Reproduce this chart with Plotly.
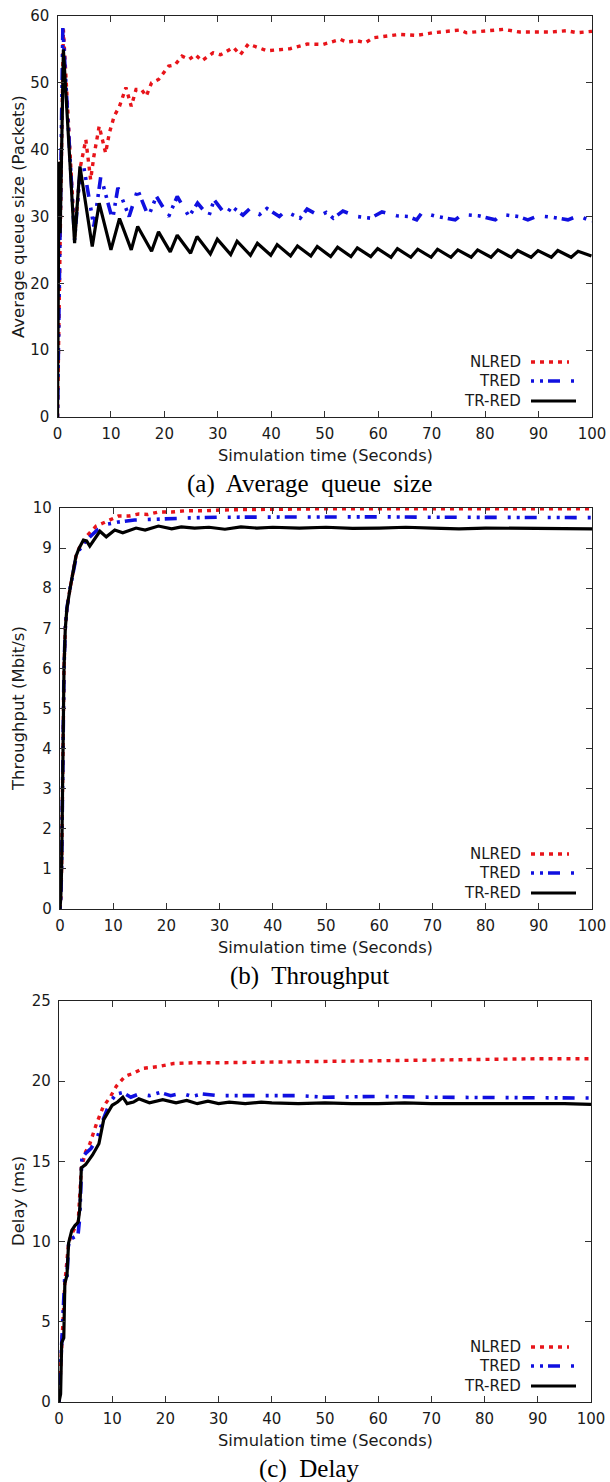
import plotly.graph_objects as go

W, H = 610, 1482

# ---------------- DATA ----------------
# (a) Average queue size (Packets)
aq_nlred_t = [0, 1.1, 3.2, 4.3, 5.3, 5.7, 6.2, 6.8, 7.8, 8.4, 9.0, 9.7, 10.6, 11.6, 12.8, 13.8, 14.7, 15.7, 16.6,
              17.6, 18.9, 20.8, 22.0, 23.3, 24.6, 25.8, 27.0, 29.1, 30.5, 32.9, 34.2, 35.7, 39.2, 43.5, 46.7,
              49.7, 52.9, 54.1, 56.0, 57.6, 59.1, 64.1, 67.2, 70.3, 75.3, 76.5, 80.3, 83.4, 86.5, 92.2, 95.2,
              97.2, 100]
aq_nlred = [0, 58, 27, 37.5, 41.5, 38.5, 35.5, 39, 43.5, 41.5, 39.5, 42.5, 45, 46.5, 49.3, 46.5, 49, 49, 48,
            50, 50.5, 52.5, 52.7, 54, 53.5, 54.2, 53.3, 54.5, 54.2, 55.3, 54.2, 55.8, 54.8, 55.1, 55.8,
            55.75, 56.5, 56.1, 56.3, 56.0, 56.75, 57.25, 57.1, 57.5, 57.9, 57.5, 57.75, 58.0, 57.6, 57.6, 57.8,
            57.5, 57.7]

aq_tred_t = [0, 1.0, 3.2, 4.3, 4.9, 6.8, 8.1, 10.3, 11.3, 13.4, 15.0, 17.0, 18.5, 20.8, 22.4, 24.6, 26.2, 28.3,
             29.3, 31.5, 32.6, 34.7, 36.0, 37.8, 39.2, 41.5, 42.6, 45.4, 46.7, 49.0, 50.3, 51.6, 53.4, 56.0,
             58.6, 60.7, 63.5, 65.6, 67.2, 68.2, 71.0, 74.4, 75.7, 78.8, 81.9, 83.1, 86.2, 88.0, 89.9, 92.5,
             95.5, 97.4, 100]
aq_tred = [0, 58.2, 26.5, 37.5, 37.5, 28.5, 36, 29.5, 34.3, 30, 34, 30, 33, 30, 33, 30, 32, 30,
           32.5, 30.2, 31.5, 30.2, 31.2, 30.3, 31.2, 30, 30.8, 29.75, 31.1, 30.1, 30.6, 29.75, 30.8, 30.0,
           29.75, 30.7, 30.1, 30, 29.5, 30.6, 30.0, 29.5, 30.3, 30.1, 29.5, 30.3, 30.0, 29.5, 30.1, 29.9,
           29.5, 30.1, 29.3]

aq_trred_t = [0, 0.3, 0.5, 1.1, 3.2, 4.2, 6.5, 7.8, 10.0, 11.6, 13.8, 15.0, 17.6, 18.9, 21.1, 22.4, 24.9, 26.1,
              28.6, 29.9, 32.4, 33.6, 36.1, 37.4, 39.9, 41.1, 43.6, 44.9, 47.4, 48.6, 51.1, 52.4, 54.9, 56.1,
              58.6, 59.9, 62.4, 63.6, 66.1, 67.4, 69.9, 71.1, 73.6, 74.9, 77.4, 78.6, 81.1, 82.4, 84.9, 86.1,
              88.6, 89.9, 92.4, 93.6, 96.1, 97.4, 99.9]
aq_trred = [0, 38.2, 27.5, 55, 26, 37.5, 25.5, 32, 25, 29.7, 25, 28.5, 24.8, 27.7, 24.7, 27.2, 24.5, 27,
            24.4, 26.6, 24.3, 26.3, 24.2, 26.0, 24.2, 25.8, 24.1, 25.6, 24.1, 25.5, 24.0, 25.4, 24.0, 25.3,
            24.0, 25.2, 23.9, 25.2, 23.9, 25.1, 23.9, 25.1, 23.9, 25.0, 23.9, 25.0, 23.9, 25.0, 23.9, 24.9,
            23.9, 24.9, 23.9, 24.9, 23.9, 24.8, 24.1]

# (b) Throughput (Mbit/s)
th_nlred_t = [0, 0.15, 0.3, 0.45, 0.6, 0.75, 1.0, 1.3, 1.9, 2.5, 3.0, 3.6, 4.4, 5.0, 6.0, 6.8, 8.0, 9.3, 11.0,
              13.0, 14.8, 16.5, 18.5, 21.0, 23.5, 27.0, 30.0, 35.0, 40.0, 45.0, 50.0, 60.0, 70.0, 80.0, 90.0, 100]
th_nlred = [0, 0.3, 1.0, 3.0, 5.0, 6.0, 7.0, 7.5, 8.0, 8.5, 8.8, 9.0, 9.15, 9.3, 9.45, 9.55, 9.62, 9.7, 9.8,
            9.8, 9.85, 9.84, 9.9, 9.9, 9.93, 9.93, 9.95, 9.96, 9.97, 9.97, 9.98, 9.98, 9.98, 9.98, 9.98, 9.98]

th_tred_t = [0, 0.15, 0.3, 0.45, 0.6, 0.75, 1.0, 1.3, 1.9, 2.5, 3.0, 3.6, 4.4, 5.0, 7.0, 9.0, 11.0, 14.0,
             18.0, 22.0, 26.0, 30.0, 40.0, 50.0, 60.0, 70.0, 80.0, 90.0, 100]
th_tred = [0, 0.3, 1.0, 3.0, 5.0, 6.0, 7.0, 7.5, 8.0, 8.45, 8.75, 8.95, 9.1, 9.2, 9.45, 9.6, 9.65, 9.7,
           9.72, 9.75, 9.76, 9.77, 9.78, 9.78, 9.78, 9.77, 9.77, 9.77, 9.76]

th_trred_t = [0, 0.15, 0.3, 0.45, 0.6, 0.75, 1.0, 1.3, 1.9, 2.5, 3.0, 3.6, 4.4, 5.0, 5.6, 7.5, 8.7, 10.3, 11.8,
              14.3, 16.0, 18.5, 21.0, 22.8, 25.3, 28, 31, 34, 37, 40, 45, 50, 55, 60, 65, 70, 75, 80, 85,
              90, 95, 100]
th_trred = [0, 0.3, 1.0, 3.0, 5.0, 6.0, 7.0, 7.5, 8.0, 8.5, 8.8, 9.0, 9.2, 9.18, 9.05, 9.42, 9.28, 9.45, 9.38,
            9.5, 9.45, 9.55, 9.48, 9.53, 9.5, 9.52, 9.47, 9.53, 9.5, 9.52, 9.5, 9.52, 9.49, 9.5, 9.52, 9.5,
            9.48, 9.5, 9.49, 9.5, 9.48, 9.48]

# (c) Delay (ms)
dl_nlred_t = [0, 0.5, 1.1, 1.8, 2.4, 3.6, 4.2, 5.0, 5.8, 7.1, 8.3, 9.6, 10.8, 12.4, 14.0, 15.8, 18.4, 21.5,
              25.2, 30, 40, 50, 60, 70, 80, 90, 100]
dl_nlred = [0, 3.7, 7.4, 9.9, 10.5, 11.2, 14.6, 15.6, 16.1, 17.4, 18.4, 19.0, 19.7, 20.3, 20.5, 20.8, 20.9,
            21.1, 21.15, 21.15, 21.2, 21.25, 21.3, 21.35, 21.4, 21.4, 21.4]

dl_tred_t = [0, 0.5, 1.1, 1.5, 1.8, 2.4, 3.0, 3.6, 3.9, 4.3, 5.0, 6.0, 7.0, 8.3, 9.6, 10.8, 12.0, 13.5, 15,
             17, 19, 21, 23, 25, 27, 30, 35, 40, 45, 50, 60, 70, 80, 90, 100]
dl_tred = [0, 3.7, 7.9, 7.8, 9.8, 10.2, 10.3, 10.5, 11.5, 15.2, 15.5, 15.8, 16.3, 17.6, 18.7, 19.2, 19.3,
           19.0, 19.2, 19.1, 19.3, 19.1, 19.25, 19.05, 19.2, 19.1, 19.1, 19.05, 19.1, 19.0, 19.05, 19.0,
           19.0, 19.0, 18.95]

dl_trred_t = [0, 0.3, 0.5, 0.9, 1.1, 1.5, 1.8, 2.4, 3.0, 3.6, 3.9, 4.2, 5.0, 6.3, 7.5, 8.4, 10.0, 11.0, 12.0,
              12.8, 14.0, 15.0, 17.0, 19.5, 22.0, 24.0, 26, 28, 30, 32, 35, 38, 40, 45, 50, 55, 60, 65, 70,
              75, 80, 85, 90, 95, 100]
dl_trred = [0, 0.5, 3.7, 4.0, 7.4, 7.9, 9.9, 10.7, 11.0, 11.2, 12.0, 14.6, 14.8, 15.4, 16.1, 17.6, 18.5,
            18.7, 19.0, 18.6, 18.7, 18.9, 18.65, 18.85, 18.65, 18.8, 18.6, 18.75, 18.6, 18.7, 18.6, 18.7,
            18.65, 18.6, 18.65, 18.6, 18.6, 18.65, 18.6, 18.6, 18.62, 18.6, 18.58, 18.6, 18.55]

series_names = ["NLRED", "TRED", "TR-RED"]
x_ticks = [0, 10, 20, 30, 40, 50, 60, 70, 80, 90, 100]
panels = [
    dict(ytitle="Average queue size (Packets)", caption="(a)\u00a0 Average\u00a0 queue\u00a0 size",
         yrange=[0, 60], ydtick=10,
         data=[(aq_nlred_t, aq_nlred), (aq_tred_t, aq_tred), (aq_trred_t, aq_trred)]),
    dict(ytitle="Throughput (Mbit/s)", caption="(b)\u00a0 Throughput",
         yrange=[0, 10], ydtick=1,
         data=[(th_nlred_t, th_nlred), (th_tred_t, th_tred), (th_trred_t, th_trred)]),
    dict(ytitle="Delay (ms)", caption="(c)\u00a0 Delay",
         yrange=[0, 25], ydtick=5,
         data=[(dl_nlred_t, dl_nlred), (dl_tred_t, dl_tred), (dl_trred_t, dl_trred)]),
]

# ---------------- STYLE / LAYOUT ----------------
colors = ["#e8141a", "#1010e0", "#000000"]
dashes = ["4px,5px", "3px,6px,3px,5px,12px,11px", "solid"]
widths = [3.4, 3.6, 3.2]

# plot boxes in pixels: (left, right, top, bottom)
boxes = [(57.5, 592, 16, 417), (60, 592, 508, 909), (59, 591, 1001, 1402)]


def px(p):
    return p / W


def py(p):
    return 1 - p / H


fig = go.Figure()
tickfont = dict(family="DejaVu Sans", size=15, color="#1a1a1a")
annotations = []
shapes = []

for i, (pan, box) in enumerate(zip(panels, boxes)):
    l, r, t, b = box
    xa = "xaxis" if i == 0 else f"xaxis{i+1}"
    ya = "yaxis" if i == 0 else f"yaxis{i+1}"
    xref = "x" if i == 0 else f"x{i+1}"
    yref = "y" if i == 0 else f"y{i+1}"
    for k, (tt, vv) in enumerate(pan["data"]):
        fig.add_trace(go.Scatter(x=tt, y=vv, mode="lines", name=series_names[k], showlegend=False,
                                 xaxis=xref, yaxis=yref,
                                 line=dict(color=colors[k], width=widths[k], dash=dashes[k])))
    fig.layout[xa] = dict(domain=[px(l), px(r)], range=[0, 100], anchor=yref, automargin=False,
                          tickvals=x_ticks, ticktext=[str(v) for v in x_ticks],
                          ticks="inside", ticklen=6, tickwidth=1, tickcolor="#333",
                          showline=True, linecolor="#222", linewidth=1.3, mirror="allticks",
                          showgrid=False, zeroline=False, tickfont=tickfont, ticklabelstandoff=3)
    yt = list(range(pan["yrange"][0], pan["yrange"][1] + 1, pan["ydtick"]))
    fig.layout[ya] = dict(domain=[py(b), py(t)], range=pan["yrange"], anchor=xref, automargin=False,
                          tickvals=yt, ticktext=[str(v) for v in yt],
                          ticks="inside", ticklen=6, tickwidth=1, tickcolor="#333",
                          showline=True, linecolor="#222", linewidth=1.3, mirror="allticks",
                          showgrid=False, zeroline=False, tickfont=tickfont, ticklabelstandoff=4)
    # axis titles
    annotations.append(dict(text=pan["ytitle"], xref="paper", yref="paper", x=px(18.5), y=py((t + b) / 2),
                            textangle=-90, showarrow=False, xanchor="center", yanchor="middle",
                            font=dict(family="DejaVu Sans", size=16.5, color="#1a1a1a")))
    annotations.append(dict(text="Simulation time (Seconds)", xref="paper", yref="paper", x=px(325),
                            y=py(b + 38), showarrow=False, xanchor="center", yanchor="middle",
                            font=dict(family="DejaVu Sans", size=16.3, color="#1a1a1a")))
    annotations.append(dict(text=pan["caption"], xref="paper", yref="paper", x=px(309),
                            y=py(b + 67), showarrow=False, xanchor="center", yanchor="middle",
                            font=dict(family="Liberation Serif", size=25, color="#000")))
    # legend (text right, sample line at right)
    for k, off in enumerate([55, 36, 16]):
        yy = b - off
        annotations.append(dict(text=series_names[k], xref="paper", yref="paper", x=px(523), y=py(yy),
                                showarrow=False, xanchor="right", yanchor="middle",
                                font=dict(family="DejaVu Sans", size=15, color="#1a1a1a")))
        shapes.append(dict(type="line", xref="paper", yref="paper", x0=px(531), x1=px(576 if k else 569),
                           y0=py(yy), y1=py(yy),
                           line=dict(color=colors[k], width=widths[k], dash=dashes[k])))

fig.update_layout(width=W, height=H, margin=dict(l=0, r=0, t=0, b=0, autoexpand=False),
                  paper_bgcolor="white", plot_bgcolor="white",
                  annotations=annotations, shapes=shapes, showlegend=False)

fig.write_html("out.html")
